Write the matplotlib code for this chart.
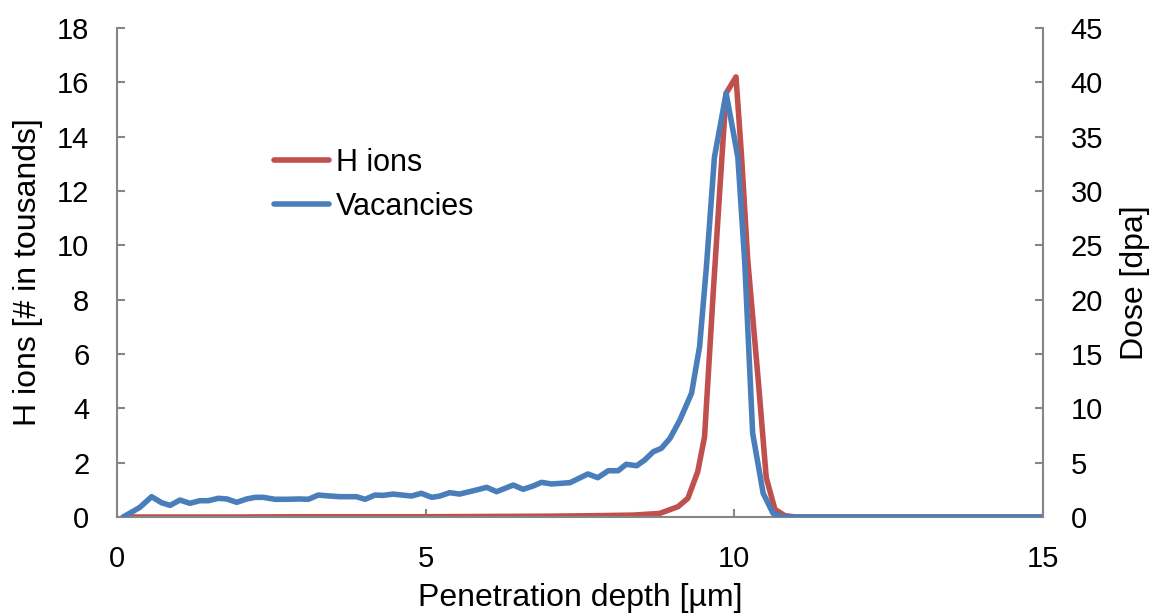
import matplotlib
matplotlib.use('Agg')
import matplotlib.pyplot as plt

plt.rcParams['font.family'] = ['Liberation Sans', 'DejaVu Sans']

# H ions (left axis, thousands)
h_depth = [0.1, 1.0, 2.0, 3.0, 4.0, 5.0, 6.0, 7.0, 7.8, 8.36, 8.79, 9.09, 9.25, 9.41,
           9.52, 9.66, 9.77, 9.87, 10.03, 10.12, 10.22, 10.39, 10.52, 10.66, 10.82,
           11.0, 12.0, 13.0, 14.0, 15.0]
h_ions = [0.0, 0.0, 0.0, 0.01, 0.01, 0.01, 0.02, 0.03, 0.05, 0.07, 0.13, 0.38, 0.69, 1.67,
          2.95, 8.23, 12.15, 15.6, 16.2, 13.26, 9.46, 5.04, 1.45, 0.28, 0.05,
          0.0, 0.0, 0.0, 0.0, 0.0]

# Vacancies (right axis, dpa)
v_depth = [0.1, 0.37, 0.56, 0.72, 0.86, 1.02, 1.18, 1.34, 1.48, 1.64, 1.78, 1.94, 2.10,
           2.24, 2.37, 2.56, 2.75, 2.96, 3.10, 3.26, 3.45, 3.61, 3.88, 4.02, 4.18, 4.31,
           4.47, 4.77, 4.93, 5.10, 5.23, 5.39, 5.55, 5.82, 5.99, 6.15, 6.42, 6.58, 6.74,
           6.88, 7.04, 7.34, 7.63, 7.79, 7.96, 8.12, 8.25, 8.42, 8.55, 8.69, 8.82, 8.96,
           9.12, 9.31, 9.44, 9.55, 9.68, 9.87, 10.06, 10.17, 10.30, 10.47, 10.63, 10.79,
           11.0, 12.0, 13.0, 14.0, 15.0]
vacancies = [0.0, 0.89, 1.87, 1.32, 1.07, 1.56, 1.26, 1.50, 1.50, 1.72, 1.66, 1.35, 1.66,
             1.81, 1.81, 1.63, 1.63, 1.66, 1.63, 2.02, 1.93, 1.87, 1.87, 1.63, 2.02, 1.99,
             2.11, 1.93, 2.18, 1.81, 1.93, 2.24, 2.11, 2.48, 2.73, 2.33, 2.94, 2.55, 2.85,
             3.19, 3.04, 3.16, 3.96, 3.62, 4.26, 4.26, 4.85, 4.72, 5.24, 6.01, 6.32, 7.24,
             8.92, 11.4, 15.7, 23.0, 33.1, 39.0, 33.1, 23.6, 7.7, 2.18, 0.34, 0.0,
             0.0, 0.0, 0.0, 0.0, 0.0]

red = '#C0504D'
blue = '#4A7EBB'
grey = '#868686'

fig = plt.figure(figsize=(11.6, 6.16), dpi=100)
ax = fig.add_axes([0.1009, 0.1607, 0.798, 0.7938])
ax2 = ax.twinx()

l1, = ax.plot(h_depth, h_ions, color=red, lw=4, label='H ions',
              solid_joinstyle='round', solid_capstyle='round')
l2, = ax2.plot(v_depth, vacancies, color=blue, lw=4, label='Vacancies',
               solid_joinstyle='round', solid_capstyle='round')

ax.set_xlim(0, 15)
ax.set_ylim(0, 18)
ax2.set_ylim(0, 45)
ax.set_xticks([0, 5, 10, 15])
ax.set_yticks(range(0, 19, 2))
ax2.set_yticks(range(0, 46, 5))

for a in (ax, ax2):
    a.spines['top'].set_visible(False)
    for s in ('left', 'right', 'bottom'):
        a.spines[s].set_color(grey)
        a.spines[s].set_linewidth(1.5)
ax.spines['right'].set_visible(False)
ax2.spines['left'].set_visible(False)
ax2.spines['bottom'].set_visible(False)

ax.tick_params(axis='both', direction='in', length=6, width=1.5, color=grey,
               labelsize=21, pad=20)
ax2.tick_params(axis='y', direction='in', length=6, width=1.5, color=grey,
                labelsize=21, pad=20)

ax.set_xlabel('Penetration depth [µm]', fontsize=23)
ax.set_ylabel('H ions [# in tousands]', fontsize=23)
ax2.set_ylabel('Dose [dpa]', fontsize=23)
ax.xaxis.set_label_coords(0.5, -0.135)
ax.yaxis.set_label_coords(-0.08, 0.5)
ax2.yaxis.set_label_coords(1.083, 0.48)

ax2.legend(handles=[l1, l2], loc='upper left', bbox_to_anchor=(0.17, 0.755),
           frameon=False, fontsize=22, handlelength=1.8, handletextpad=0.2,
           labelspacing=0.45, borderpad=0, borderaxespad=0)

fig.savefig('out.png', dpi=100)
